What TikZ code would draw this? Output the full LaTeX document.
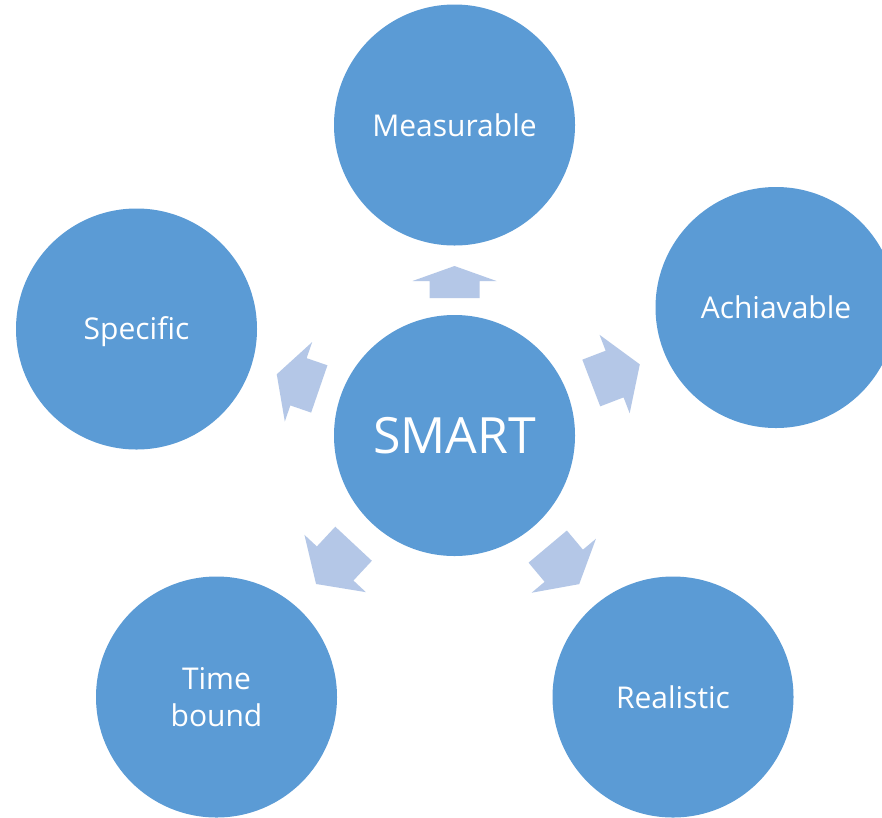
\documentclass[tikz,border=0pt]{standalone}
\usepackage{fontspec}
\setmainfont{Open Sans}
\definecolor{circblue}{HTML}{5B9BD5}
\definecolor{arrblue}{HTML}{B4C7E7}
\tikzset{
  bubble/.style={circle, fill=circblue, draw=none, minimum size=241pt, inner sep=0pt,
    text=white, align=center, font=\fontsize{30}{37}\selectfont},
  blockarr/.style={fill=arrblue, draw=none}
}
% #1 angle, #2 start radius, #3 shaft length, #4 head length
\newcommand{\smartarrow}[4]{%
  \begin{scope}[shift={(smart.center)}, x=1pt, y=1pt, rotate=#1]
    \fill[blockarr] (#2,-25) -- ({#2+#3},-25) -- ({#2+#3},-42) -- ({#2+#3+#4},0)
      -- ({#2+#3},42) -- ({#2+#3},25) -- (#2,25) -- cycle;
  \end{scope}}
\begin{document}
\begin{tikzpicture}[x=1pt, y=-1pt]
  \useasboundingbox (0,0) rectangle (882,817);
  \clip (0,0) rectangle (882,817);
  \fill[white] (0,0) rectangle (882,817);
  \node[bubble, font=\fontsize{50}{60}\selectfont] (smart) at (454.5,435.5) {SMART};
  \node[bubble] (meas) at (454.5,125) {Measurable};
  \node[bubble] (achi) at (776,307.5) {Achiavable};
  \node[bubble] (spec) at (136.5,329) {};
  \node[text=white, font=\fontsize{30}{37}\selectfont, inner sep=0pt] (spectext) at (136.5,332) {Specific};
  \node[bubble] (time) at (216.5,697) {Time\\bound};
  \node[bubble] (real) at (673,697) {Realistic};
  \smartarrow{90}{137.5}{17}{15}
  \smartarrow{21}{146.5}{25}{27}
  \smartarrow{161}{143}{22}{23}
  \smartarrow{-133}{148}{27}{28}
  \smartarrow{-50}{145}{25}{24}
\end{tikzpicture}
\end{document}
